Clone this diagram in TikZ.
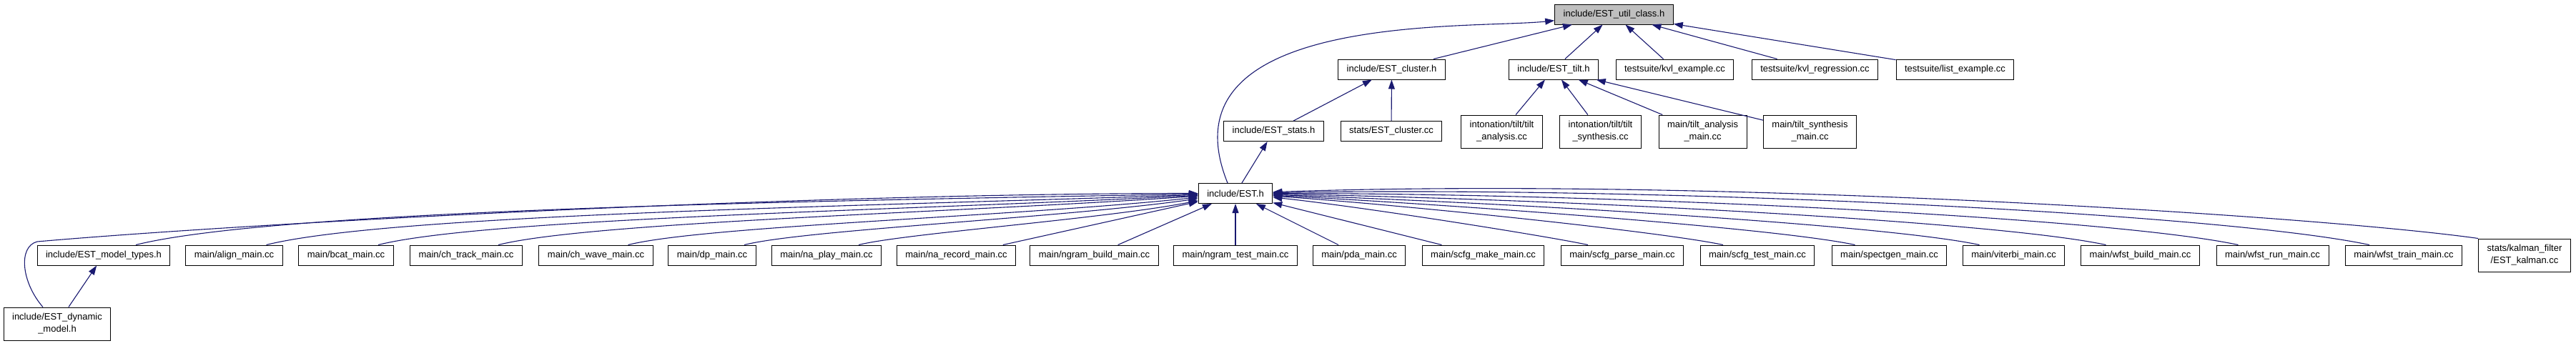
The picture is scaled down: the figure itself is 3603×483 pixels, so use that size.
\documentclass[tikz,border=0pt]{standalone}
\usepackage{fontspec}
\setmainfont{Liberation Sans}
\usepackage{tikz}
\usetikzlibrary{arrows.meta}
\definecolor{dgEdge}{HTML}{191970}
\definecolor{dgRoot}{HTML}{BFBFBF}
\definecolor{dgLine}{HTML}{000000}

\begin{document}
\begin{tikzpicture}[
  x=1pt,y=1pt,
  filebox/.style={draw=dgLine,line width=1pt,fill=white,inner xsep=12pt,inner ysep=2pt,
    minimum height=28pt,font=\fontsize{13}{17}\selectfont},
  twoline/.style={filebox,align=center,minimum height=46pt},
  root/.style={filebox,fill=dgRoot},
  dep/.style={draw=dgEdge,line width=1.1pt,-{Triangle[length=13pt,width=9pt]}}
]
  \useasboundingbox (0,0) rectangle (3603,-483);
  % header and the files right under it
  \node[root] (util) at (2257.5,-20) {include/EST\_util\_class.h};
  \node[filebox] (cluster) at (1946.5,-97) {include/EST\_cluster.h};
  \node[filebox] (tilth) at (2173,-97) {include/EST\_tilt.h};
  \node[filebox] (kvlex) at (2342.5,-97) {testsuite/kvl\_example.cc};
  \node[filebox] (kvlreg) at (2538.5,-97) {testsuite/kvl\_regression.cc};
  \node[filebox] (listex) at (2734.5,-97) {testsuite/list\_example.cc};
  \node[filebox] (stats) at (1781.5,-183.5) {include/EST\_stats.h};
  \node[filebox] (clustercc) at (1946,-183.5) {stats/EST\_cluster.cc};
  \node[twoline] (tiltana) at (2100.5,-184) {intonation/tilt/tilt\\\_analysis.cc};
  \node[twoline] (tiltsyn) at (2238.5,-184) {intonation/tilt/tilt\\\_synthesis.cc};
  \node[twoline] (tiltanamain) at (2381.5,-184) {main/tilt\_analysis\\\_main.cc};
  \node[twoline] (tiltsynmain) at (2531.5,-184) {main/tilt\_synthesis\\\_main.cc};
  \node[filebox] (est) at (1728,-270.5) {include/EST.h};
  % files that include EST.h
  \node[filebox] (types) at (145,-357) {include/EST\_model\_types.h};
  \node[filebox] (align) at (327.5,-357) {main/align\_main.cc};
  \node[filebox] (bcat) at (484,-357) {main/bcat\_main.cc};
  \node[filebox] (chtrack) at (652,-357) {main/ch\_track\_main.cc};
  \node[filebox] (chwave) at (833.5,-357) {main/ch\_wave\_main.cc};
  \node[filebox] (dp) at (996,-357) {main/dp\_main.cc};
  \node[filebox] (naplay) at (1156,-357) {main/na\_play\_main.cc};
  \node[filebox] (narec) at (1337.5,-357) {main/na\_record\_main.cc};
  \node[filebox] (ngbuild) at (1530.5,-357) {main/ngram\_build\_main.cc};
  \node[filebox] (ngtest) at (1728,-357) {main/ngram\_test\_main.cc};
  \node[filebox] (pda) at (1901,-357) {main/pda\_main.cc};
  \node[filebox] (scfgmake) at (2074.5,-357) {main/scfg\_make\_main.cc};
  \node[filebox] (scfgparse) at (2269,-357) {main/scfg\_parse\_main.cc};
  \node[filebox] (scfgtest) at (2458,-357) {main/scfg\_test\_main.cc};
  \node[filebox] (spectgen) at (2642.5,-357) {main/spectgen\_main.cc};
  \node[filebox] (viterbi) at (2816.5,-357) {main/viterbi\_main.cc};
  \node[filebox] (wfstbuild) at (2993.5,-357) {main/wfst\_build\_main.cc};
  \node[filebox] (wfstrun) at (3178.5,-357) {main/wfst\_run\_main.cc};
  \node[filebox] (wfsttrain) at (3362,-357) {main/wfst\_train\_main.cc};
  \node[twoline] (kalman) at (3531,-357) {stats/kalman\_filter\\/EST\_kalman.cc};
  \node[twoline] (dynmodel) at (80,-453) {include/EST\_dynamic\\\_model.h};

  % edges into the header
  \foreach \n in {cluster,tilth,kvlex,kvlreg,listex}
    \draw[dep] (\n) -- (util);
  \draw[dep] ([xshift=-11pt]est.north) .. controls +(112:260) and +(186:200) .. (util);
  \draw[dep] (stats) -- (cluster);
  \draw[dep] (clustercc) -- (cluster);
  \foreach \n in {tiltana,tiltsyn,tiltanamain,tiltsynmain}
    \draw[dep] (\n) -- (tilth);
  \draw[dep] (est) -- (stats);

  % the fan into EST.h
  \foreach \n/\i/\a/\b in {types/181/204/583,align/182/179/511,bcat/183/157/450,
      chtrack/184/134/384,chwave/186/110/313,dp/188/88/250,naplay/191/66/188}
    \draw[dep] ([xshift=45pt]\n.north) .. controls +(14:\a) and +(\i:\b) .. (est);
  \foreach \n in {narec,ngbuild,ngtest,pda,scfgmake}
    \draw[dep] (\n) -- (est);
  \foreach \n/\i/\a/\b in {scfgparse/-6/61/175,scfgtest/-4/87/248,spectgen/-3/112/320,
      viterbi/-2/136/388,wfstbuild/-1/160/457,wfstrun/0/185/529,wfsttrain/1/210/601}
    \draw[dep] ([xshift=-48pt]\n.north) .. controls +(168:\a) and +(\i:\b) .. (est);
  \draw[dep] (kalman.north west) .. controls +(172:231) and +(2:660) .. (est);
  \draw[dep] ([xshift=-20pt]dynmodel.north) .. controls (30,-395) and (25,-345) .. (52,-338)
    .. controls +(5:300) and +(180:600) .. (est);
  \draw[dep] (dynmodel) -- (types);
\end{tikzpicture}
\end{document}
